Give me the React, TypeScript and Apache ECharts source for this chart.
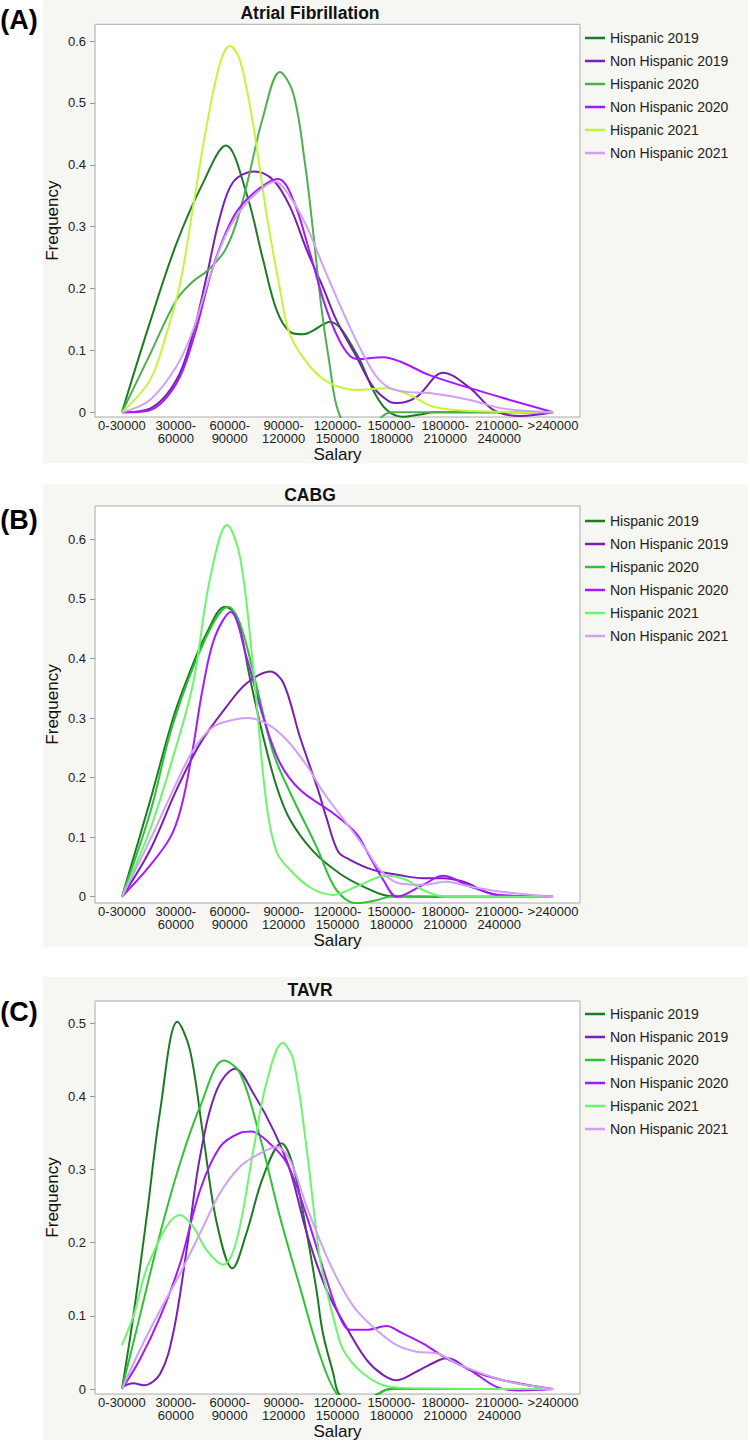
import React, { useEffect, useRef } from "react";
import * as echarts from "echarts";

// ---------- data ----------
const CATEGORIES = [
  "0-30000",
  "30000-\n60000",
  "60000-\n90000",
  "90000-\n120000",
  "120000-\n150000",
  "150000-\n180000",
  "180000-\n210000",
  "210000-\n240000",
  ">240000",
];

const SERIES_NAMES = [
  "Hispanic 2019",
  "Non Hispanic 2019",
  "Hispanic 2020",
  "Non Hispanic 2020",
  "Hispanic 2021",
  "Non Hispanic 2021",
];

const PANEL_TITLES = ["Atrial Fibrillation", "CABG", "TAVR"];
const PANEL_LABELS = ["(A)", "(B)", "(C)"];

const Y_TICKS_AB = [0, 0.1, 0.2, 0.3, 0.4, 0.5, 0.6];
const Y_TICKS_C = [0, 0.1, 0.2, 0.3, 0.4, 0.5];

// Panel A: Atrial Fibrillation  ([category position, frequency])
const aHisp2019 = [[0, 0], [0.5, 0.14], [1, 0.27], [1.5, 0.37], [1.93, 0.431], [2.31, 0.354], [2.62, 0.246], [2.87, 0.165], [3.12, 0.13], [3.36, 0.126], [3.86, 0.146], [4.35, 0.095], [4.66, 0.036], [4.91, 0.004], [5.2, -0.007], [5.5, -0.004], [5.8, 0], [6.5, 0], [7.2, 0], [8, 0]];
const aNonHisp2019 = [[0, 0], [0.52, 0.006], [1.01, 0.052], [1.32, 0.128], [1.57, 0.219], [1.82, 0.316], [2.07, 0.373], [2.45, 0.389], [2.81, 0.375], [3.12, 0.332], [3.43, 0.262], [3.74, 0.2], [3.98, 0.149], [4.35, 0.09], [4.66, 0.041], [4.97, 0.017], [5.1, 0.015], [5.47, 0.025], [5.96, 0.064], [6.46, 0.039], [6.89, 0.004], [7.38, -0.006], [8, 0]];
const aHisp2020 = [[0, 0], [0.5, 0.09], [1.0, 0.18], [1.3, 0.21], [1.6, 0.23], [1.9, 0.26], [2.1, 0.3], [2.31, 0.365], [2.62, 0.478], [2.93, 0.55], [3.18, 0.515], [3.4, 0.4], [3.55, 0.29], [3.7, 0.17], [3.85, 0.08], [4.02, 0], [4.4, -0.05], [4.79, -0.01], [5.0, 0], [6, 0], [7, 0], [8, 0]];
const aNonHisp2020 = [[0, 0], [0.5, 0.003], [1, 0.045], [1.32, 0.117], [1.69, 0.235], [2.07, 0.316], [2.44, 0.354], [2.9, 0.377], [3.18, 0.343], [3.49, 0.257], [3.8, 0.165], [4.1, 0.106], [4.35, 0.086], [4.85, 0.089], [5.16, 0.082], [5.71, 0.06], [6.46, 0.039], [7.2, 0.02], [8, 0]];
const aHisp2021 = [[0, 0], [0.52, 0.052], [0.83, 0.128], [1.08, 0.208], [1.32, 0.332], [1.57, 0.462], [1.82, 0.564], [2.0, 0.592], [2.19, 0.569], [2.44, 0.462], [2.68, 0.322], [2.93, 0.2], [3.12, 0.125], [3.49, 0.074], [3.86, 0.047], [4.35, 0.036], [4.91, 0.039], [5.34, 0.028], [5.78, 0.009], [6.5, 0.002], [8, 0]];
const aNonHisp2021 = [[0, 0], [0.52, 0.02], [1.01, 0.074], [1.32, 0.133], [1.63, 0.219], [1.94, 0.289], [2.25, 0.332], [2.56, 0.359], [2.84, 0.373], [3.12, 0.348], [3.43, 0.3], [3.74, 0.235], [4.17, 0.149], [4.47, 0.095], [4.72, 0.058], [4.97, 0.039], [5.28, 0.033], [5.71, 0.031], [6.46, 0.02], [7.07, 0.006], [8, 0]];

// Panel B: CABG
const bHisp2019 = [[0, 0], [0.52, 0.16], [0.95, 0.3], [1.25, 0.375], [1.57, 0.442], [1.91, 0.487], [2.13, 0.47], [2.37, 0.369], [2.62, 0.269], [2.87, 0.185], [3.12, 0.129], [3.55, 0.076], [4.04, 0.039], [4.48, 0.017], [4.97, 0.001], [6, 0], [7, 0], [8, 0]];
const bNonHisp2019 = [[0, 0], [0.52, 0.078], [1.01, 0.179], [1.45, 0.257], [1.94, 0.319], [2.31, 0.358], [2.75, 0.378], [3.0, 0.358], [3.3, 0.269], [3.64, 0.179], [3.79, 0.134], [4.01, 0.076], [4.23, 0.062], [4.66, 0.045], [5.16, 0.036], [5.59, 0.031], [5.96, 0.031], [6.34, 0.025], [6.95, 0.003], [8, 0]];
const bHisp2020 = [[0, 0], [0.52, 0.14], [0.95, 0.291], [1.57, 0.437], [1.97, 0.487], [2.19, 0.459], [2.5, 0.353], [2.81, 0.241], [3.12, 0.175], [3.61, 0.084], [3.98, 0.011], [4.35, -0.011], [4.72, -0.006], [4.97, 0], [6, 0], [7, 0], [8, 0]];
const bNonHisp2020 = [[0, 0], [0.5, 0.05], [0.9, 0.1], [1.1, 0.15], [1.3, 0.24], [1.5, 0.35], [1.72, 0.435], [2.02, 0.478], [2.31, 0.403], [2.62, 0.302], [2.93, 0.225], [3.31, 0.179], [3.92, 0.14], [4.35, 0.106], [4.6, 0.067], [4.85, 0.028], [5.1, 0], [5.59, 0.02], [5.96, 0.035], [6.46, 0.017], [7.0, 0.003], [8, 0]];
const bHisp2021 = [[0, 0], [0.52, 0.112], [0.95, 0.235], [1.32, 0.358], [1.63, 0.532], [1.95, 0.624], [2.19, 0.571], [2.44, 0.381], [2.68, 0.157], [2.87, 0.075], [3.12, 0.045], [3.5, 0.015], [3.92, 0.003], [4.35, 0.017], [4.91, 0.035], [5.28, 0.028], [5.59, 0.011], [6, 0], [7, 0], [8, 0]];
const bNonHisp2021 = [[0, 0], [0.52, 0.095], [0.95, 0.179], [1.32, 0.246], [1.69, 0.285], [2.07, 0.297], [2.31, 0.3], [2.68, 0.291], [3.06, 0.263], [3.43, 0.22], [3.74, 0.175], [4.17, 0.123], [4.54, 0.078], [4.79, 0.045], [5.16, 0.022], [5.59, 0.02], [6.02, 0.025], [6.46, 0.017], [7.08, 0.008], [8, 0]];

// Panel C: TAVR
const cHisp2019 = [[0, 0], [0.21, 0.099], [0.46, 0.236], [0.71, 0.381], [1.03, 0.502], [1.26, 0.464], [1.51, 0.345], [1.76, 0.227], [2.05, 0.165], [2.31, 0.213], [2.62, 0.29], [2.96, 0.336], [3.18, 0.304], [3.43, 0.213], [3.61, 0.135], [3.73, 0.076], [3.92, 0.022], [4.04, -0.008], [4.4, -0.02], [4.72, -0.008], [4.97, 0], [6, 0], [7, 0], [8, 0]];
const cNonHisp2019 = [[0, 0.003], [0.21, 0.008], [0.4, 0.005], [0.71, 0.021], [0.95, 0.076], [1.2, 0.19], [1.45, 0.318], [1.76, 0.409], [2.1, 0.438], [2.44, 0.404], [2.81, 0.354], [3.12, 0.299], [3.43, 0.213], [3.8, 0.135], [4.23, 0.076], [4.54, 0.04], [4.85, 0.019], [5.1, 0.012], [5.47, 0.024], [5.9, 0.04], [6.05, 0.042], [6.46, 0.026], [7.07, 0.012], [8, 0]];
const cHisp2020 = [[0, 0], [0.33, 0.099], [0.71, 0.213], [1.08, 0.309], [1.45, 0.386], [1.89, 0.449], [2.19, 0.432], [2.56, 0.345], [2.93, 0.236], [3.3, 0.14], [3.67, 0.047], [3.98, -0.006], [4.4, -0.03], [4.8, -0.005], [5.0, 0], [6, 0], [7, 0], [8, 0]];
const cNonHisp2020 = [[0, 0], [0.33, 0.04], [0.71, 0.099], [1.08, 0.172], [1.45, 0.272], [1.82, 0.331], [2.19, 0.35], [2.4, 0.352], [2.68, 0.34], [3.06, 0.309], [3.43, 0.236], [3.8, 0.149], [4.04, 0.099], [4.23, 0.081], [4.54, 0.081], [4.91, 0.086], [5.16, 0.078], [5.59, 0.062], [6.02, 0.042], [6.46, 0.026], [6.95, 0.003], [7.38, -0.002], [8, 0]];
const cHisp2021 = [[0, 0.06], [0.21, 0.099], [0.52, 0.176], [1.08, 0.238], [1.32, 0.222], [1.57, 0.19], [1.88, 0.17], [2.13, 0.204], [2.44, 0.327], [2.68, 0.418], [2.98, 0.473], [3.18, 0.45], [3.43, 0.327], [3.67, 0.18], [3.83, 0.125], [3.95, 0.09], [4.11, 0.053], [4.48, 0.021], [4.97, 0.003], [5.5, 0.001], [7, 0], [8, 0]];
const cNonHisp2021 = [[0, 0], [0.33, 0.053], [0.71, 0.108], [1.08, 0.158], [1.45, 0.213], [1.82, 0.268], [2.19, 0.304], [2.56, 0.322], [2.87, 0.331], [3.12, 0.313], [3.43, 0.249], [3.8, 0.181], [4.11, 0.135], [4.35, 0.108], [4.72, 0.081], [5.1, 0.06], [5.47, 0.051], [5.84, 0.049], [6.27, 0.033], [7.07, 0.012], [8, 0]];

const PANEL_DATA = [
  [aHisp2019, aNonHisp2019, aHisp2020, aNonHisp2020, aHisp2021, aNonHisp2021],
  [bHisp2019, bNonHisp2019, bHisp2020, bNonHisp2020, bHisp2021, bNonHisp2021],
  [cHisp2019, cNonHisp2019, cHisp2020, cNonHisp2020, cHisp2021, cNonHisp2021],
];

// ---------- styles / layout ----------
const COLORS_A = ["#1f7a24", "#7a1fb5", "#4cb050", "#a31aff", "#c3f53a", "#d1a0f5"];
const COLORS_BC = ["#1c7a22", "#7a1fb5", "#2ec236", "#a31aff", "#6af56a", "#d1a0f5"];
const PANEL_COLORS = [COLORS_A, COLORS_BC, COLORS_BC];

const LAYOUT = [
  { bgTop: 0, bgH: 463, gridTop: 24.3, gridH: 392.7, yMin: -0.0076, yMax: 0.627, titleY: 12.7, labelY: 20, legendTop: 26 },
  { bgTop: 484, bgH: 463, gridTop: 506, gridH: 397, yMin: -0.0106, yMax: 0.656, titleY: 495, labelY: 520, legendTop: 509 },
  { bgTop: 977, bgH: 463, gridTop: 1001, gridH: 393, yMin: -0.0068, yMax: 0.5305, titleY: 989.5, labelY: 1012, legendTop: 1002 },
];
const Y_TICKS = [Y_TICKS_AB, Y_TICKS_AB, Y_TICKS_C];

const FONT = '"Liberation Sans", Arial, Helvetica, sans-serif';

export default function App() {
  const ref = useRef<HTMLDivElement>(null);

  useEffect(() => {
    document.body.style.margin = "0";
    if (!ref.current) return;
    const chart = echarts.init(ref.current, null, { renderer: "svg" });

    const grid: any[] = [];
    const xAxis: any[] = [];
    const yAxis: any[] = [];
    const series: any[] = [];
    const legend: any[] = [];
    const graphic: any[] = [];

    LAYOUT.forEach((L, p) => {
      graphic.push({
        type: "rect",
        z: -10,
        silent: true,
        shape: { x: 43, y: L.bgTop, width: 705, height: L.bgH },
        style: { fill: "#f6f6f2" },
      });
      graphic.push({
        type: "text",
        x: 310,
        y: L.titleY,
        style: {
          text: PANEL_TITLES[p],
          fontFamily: FONT,
          fontWeight: "bold",
          fontSize: 17.5,
          fill: "#111",
          align: "center",
          verticalAlign: "middle",
        },
      });
      graphic.push({
        type: "text",
        x: 19,
        y: L.labelY,
        style: {
          text: PANEL_LABELS[p],
          fontFamily: FONT,
          fontWeight: "bold",
          fontSize: 27,
          fill: "#000",
          align: "center",
          verticalAlign: "middle",
        },
      });

      grid.push({
        left: 95,
        top: L.gridTop,
        width: 485,
        height: L.gridH,
        show: true,
        backgroundColor: "#ffffff",
        borderColor: "#aaaaaa",
        borderWidth: 1,
      });

      xAxis.push({
        type: "category",
        gridIndex: p,
        data: CATEGORIES,
        boundaryGap: true,
        position: "bottom",
        name: "Salary",
        nameLocation: "middle",
        nameGap: 29,
        nameMoveOverlap: false,
        nameTextStyle: { fontFamily: FONT, fontSize: 17, color: "#111" },
        axisLine: { show: false, onZero: false },
        axisTick: { show: false },
        splitLine: { show: false },
        axisLabel: {
          interval: 0,
          margin: 2,
          fontFamily: FONT,
          fontSize: 13,
          lineHeight: 13,
          color: "#222",
        },
      });
      xAxis.push({
        type: "value",
        gridIndex: p,
        min: -0.5,
        max: 8.5,
        show: false,
        axisLine: { onZero: false },
      });

      yAxis.push({
        type: "value",
        gridIndex: p,
        position: "left",
        min: L.yMin,
        max: L.yMax,
        name: "Frequency",
        nameLocation: "middle",
        nameGap: 34,
        nameMoveOverlap: false,
        nameTextStyle: { fontFamily: FONT, fontSize: 17, color: "#111" },
        axisLine: { show: false, onZero: false },
        splitLine: { show: false },
        axisTick: {
          show: true,
          length: 5,
          customValues: Y_TICKS[p],
          lineStyle: { color: "#999" },
        },
        axisLabel: {
          customValues: Y_TICKS[p],
          margin: 9,
          fontFamily: FONT,
          fontSize: 13,
          color: "#222",
          formatter: (v: number) => (Math.abs(v) < 1e-9 ? "0" : v.toFixed(1)),
        },
      });

      PANEL_DATA[p].forEach((d, s) => {
        series.push({
          type: "line",
          name: SERIES_NAMES[s],
          xAxisIndex: 2 * p + 1,
          yAxisIndex: p,
          data: d,
          smooth: 0.35,
          symbol: "none",
          color: PANEL_COLORS[p][s],
          lineStyle: { width: 2, color: PANEL_COLORS[p][s] },
          clip: true,
        });
      });

      legend.push({
        orient: "vertical",
        left: 580,
        top: L.legendTop,
        icon: "rect",
        itemWidth: 20,
        itemHeight: 2.5,
        itemGap: 9,
        selectedMode: false,
        textStyle: { fontFamily: FONT, fontSize: 14, color: "#222" },
        data: SERIES_NAMES.map((n, s) => ({
          name: n,
          itemStyle: { color: PANEL_COLORS[p][s] },
        })),
      });
    });

    chart.setOption({
      animation: false,
      backgroundColor: "#ffffff",
      grid,
      xAxis,
      yAxis,
      series,
      legend,
      graphic,
    });

    return () => chart.dispose();
  }, []);

  return <div ref={ref} style={{ width: 750, height: 1443 }} />;
}
